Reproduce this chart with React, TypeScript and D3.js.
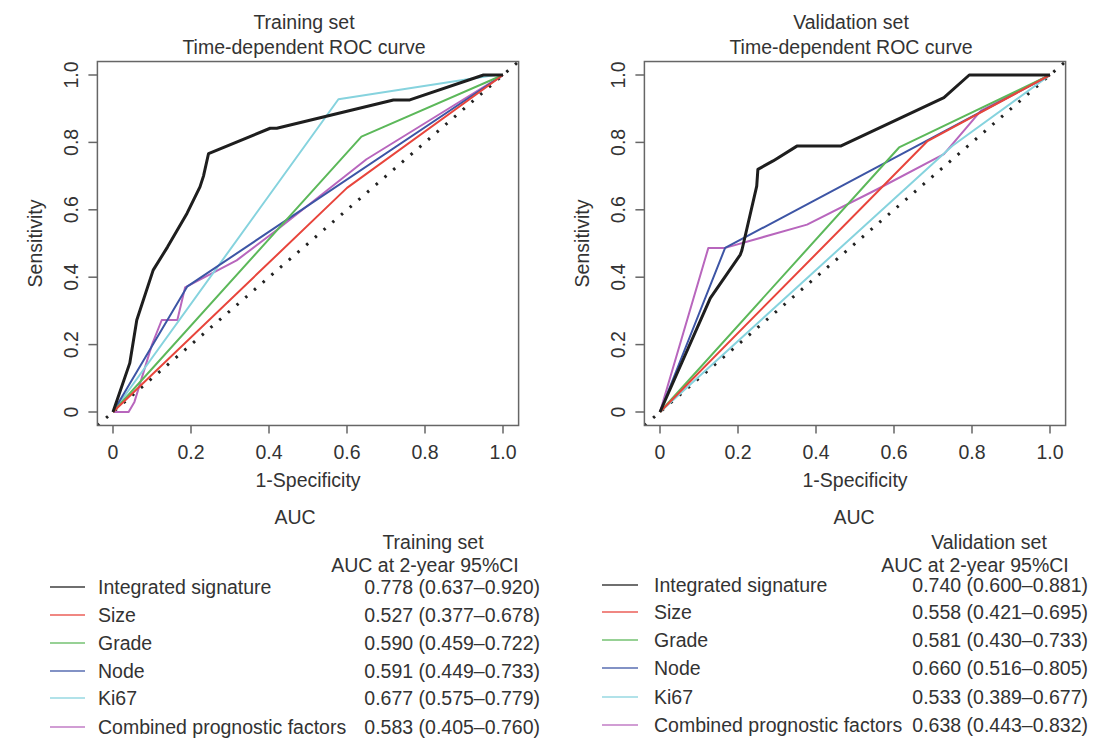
import React from 'react';
import * as d3 from 'd3';

// series (same order in both panels and legends)
const seriesNames = ['Integrated signature', 'Size', 'Grade', 'Node', 'Ki67', 'Combined prognostic factors'];
const seriesColors = ['#1e1e1e', '#e8453c', '#5cb85a', '#3d55a5', '#86d3de', '#b866bd'];
const seriesWidths = [3, 2, 2, 2, 2, 2];

// training set curves, [1-specificity, sensitivity]
const trainIntegrated: [number, number][] = [[0, 0], [0.043, 0.145], [0.061, 0.273], [0.103, 0.421], [0.14, 0.49], [0.19, 0.59], [0.223, 0.668], [0.232, 0.7], [0.245, 0.767], [0.403, 0.842], [0.42, 0.842], [0.719, 0.926], [0.761, 0.926], [0.95, 1], [1, 1]];
const trainSize: [number, number][] = [[0, 0], [0.6, 0.665], [1, 1]];
const trainGrade: [number, number][] = [[0, 0], [0.637, 0.817], [1, 1]];
const trainNode: [number, number][] = [[0, 0], [0.19, 0.372], [1, 1]];
const trainKi67: [number, number][] = [[0, 0], [0.578, 0.928], [0.98, 1], [1, 1]];
const trainCombined: [number, number][] = [[0, 0], [0.04, 0], [0.055, 0.03], [0.1, 0.2], [0.125, 0.273], [0.165, 0.273], [0.185, 0.37], [0.317, 0.45], [0.42, 0.54], [0.65, 0.75], [1, 1]];

// validation set curves
const validIntegrated: [number, number][] = [[0, 0], [0.129, 0.338], [0.206, 0.467], [0.21, 0.48], [0.248, 0.67], [0.251, 0.72], [0.29, 0.745], [0.351, 0.789], [0.463, 0.789], [0.728, 0.933], [0.793, 1], [1, 1]];
const validSize: [number, number][] = [[0, 0], [0.686, 0.804], [1, 1]];
const validGrade: [number, number][] = [[0, 0], [0.613, 0.785], [1, 1]];
const validNode: [number, number][] = [[0, 0], [0.167, 0.487], [1, 1]];
const validKi67: [number, number][] = [[0, 0], [0.75, 0.79], [1, 1]];
const validCombined: [number, number][] = [[0, 0], [0.124, 0.487], [0.167, 0.487], [0.377, 0.556], [0.557, 0.661], [0.728, 0.765], [0.823, 0.894], [1, 1]];

const trainAuc = ['0.778 (0.637\u20130.920)', '0.527 (0.377\u20130.678)', '0.590 (0.459\u20130.722)', '0.591 (0.449\u20130.733)', '0.677 (0.575\u20130.779)', '0.583 (0.405\u20130.760)'];
const validAuc = ['0.740 (0.600\u20130.881)', '0.558 (0.421\u20130.695)', '0.581 (0.430\u20130.733)', '0.660 (0.516\u20130.805)', '0.533 (0.389\u20130.677)', '0.638 (0.443\u20130.832)'];

const tickValues = [0, 0.2, 0.4, 0.6, 0.8, 1.0];
const tickLabels = ['0', '0.2', '0.4', '0.6', '0.8', '1.0'];

const FONT = '"Liberation Sans", Arial, Helvetica, sans-serif';
const TEXT = '#333';
const FS = 19.5;

type Curve = [number, number][];

const RocPanel = ({ x0, title, curves, id }: { x0: number; title: string; curves: Curve[]; id: string }) => {
  const x = d3.scaleLinear().domain([0, 1]).range([x0, x0 + 390]);
  const y = d3.scaleLinear().domain([0, 1]).range([412, 75]);
  const [bx0, bx1] = [x(-0.04), x(1.04)];
  const [by0, by1] = [y(1.04), y(-0.04)];
  const line = d3.line<[number, number]>().x(d => x(d[0])).y(d => y(d[1]));
  const cx = (x(0) + x(1)) / 2;
  const cy = (y(0) + y(1)) / 2;

  return (
    <g>
      <defs>
        <clipPath id={id}>
          <rect x={bx0} y={by0} width={bx1 - bx0} height={by1 - by0} />
        </clipPath>
      </defs>
      <text x={cx - 4} y={22} textAnchor="middle" dominantBaseline="central" fontSize={FS} fill={TEXT}>{title}</text>
      <text x={cx - 4} y={47} textAnchor="middle" dominantBaseline="central" fontSize={FS} fill={TEXT}>Time-dependent ROC curve</text>

      <g clipPath={`url(#${id})`}>
        {/* reference diagonal */}
        <line x1={x(-0.04)} y1={y(-0.04)} x2={x(1.04)} y2={y(1.04)} stroke="#222" strokeWidth={3} strokeDasharray="2.5 9" />
        {/* black curve drawn last so it sits on top */}
        {curves.map((c, i) => (
          <path key={i} d={line(c) || ''} fill="none" stroke={seriesColors[i]} strokeWidth={seriesWidths[i]} strokeLinejoin="round" />
        )).reverse()}
      </g>

      <rect x={bx0} y={by0} width={bx1 - bx0} height={by1 - by0} fill="none" stroke="#666" strokeWidth={1.5} />

      {/* x axis */}
      {tickValues.map((t, i) => (
        <g key={'x' + i}>
          <line x1={x(t)} x2={x(t)} y1={by1} y2={by1 + 8} stroke="#666" strokeWidth={1.5} />
          <text x={x(t)} y={452} textAnchor="middle" dominantBaseline="central" fontSize={FS} fill={TEXT}>{tickLabels[i]}</text>
        </g>
      ))}
      <text x={cx} y={480} textAnchor="middle" dominantBaseline="central" fontSize={FS} fill={TEXT}>1-Specificity</text>

      {/* y axis */}
      {tickValues.map((t, i) => (
        <g key={'y' + i}>
          <line x1={bx0} x2={bx0 - 9} y1={y(t)} y2={y(t)} stroke="#666" strokeWidth={1.5} />
          <text transform={`translate(${bx0 - 26},${y(t)}) rotate(-90)`} textAnchor="middle" dominantBaseline="central" fontSize={FS} fill={TEXT}>{tickLabels[i]}</text>
        </g>
      ))}
      <text transform={`translate(${bx0 - 62},${cy}) rotate(-90)`} textAnchor="middle" dominantBaseline="central" fontSize={FS} fill={TEXT}>Sensitivity</text>
    </g>
  );
};

const Legend = ({ aucX, setName, headX, subX, lineX0, lineX1, labelX, valueX, rows, values }:
  { aucX: number; setName: string; headX: number; subX: number; lineX0: number; lineX1: number; labelX: number; valueX: number; rows: number[]; values: string[] }) => (
  <g fontSize={FS} fill={TEXT}>
    <text x={aucX} y={517} textAnchor="middle" dominantBaseline="central">AUC</text>
    <text x={headX} y={542} textAnchor="middle" dominantBaseline="central">{setName}</text>
    <text x={subX} y={565} textAnchor="middle" dominantBaseline="central">AUC at 2-year 95%CI</text>
    {seriesNames.map((name, i) => (
      <g key={name}>
        <line x1={lineX0} x2={lineX1} y1={rows[i]} y2={rows[i]} stroke={seriesColors[i]} strokeWidth={1.6} opacity={0.85} />
        <text x={labelX} y={rows[i]} dominantBaseline="central">{name}</text>
        <text x={valueX} y={rows[i]} textAnchor="end" dominantBaseline="central">{values[i]}</text>
      </g>
    ))}
  </g>
);

const trainRows = [587, 615, 643, 671, 698, 727];
const validRows = [585, 612, 640, 668, 697, 725];

export default function App() {
  const trainCurves = [trainIntegrated, trainSize, trainGrade, trainNode, trainKi67, trainCombined];
  const validCurves = [validIntegrated, validSize, validGrade, validNode, validKi67, validCombined];
  return (
    <div style={{ position: 'absolute', left: 0, top: 0 }}>
      <svg width={1094} height={742} style={{ display: 'block', background: '#fff', fontFamily: FONT }}>
        <RocPanel x0={113} title="Training set" curves={trainCurves} id="clipTrain" />
        <RocPanel x0={660} title="Validation set" curves={validCurves} id="clipValid" />
        <Legend aucX={295} setName="Training set" headX={433} subX={425} lineX0={50} lineX1={85}
          labelX={98} valueX={540} rows={trainRows} values={trainAuc} />
        <Legend aucX={854} setName="Validation set" headX={989} subX={975} lineX0={602} lineX1={638}
          labelX={654} valueX={1088} rows={validRows} values={validAuc} />
      </svg>
    </div>
  );
}
